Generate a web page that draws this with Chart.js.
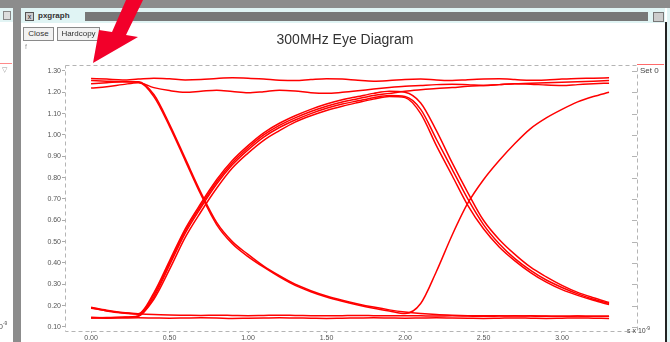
<!DOCTYPE html>
<html>
<head>
<meta charset="utf-8">
<script src="https://cdn.jsdelivr.net/npm/chart.js@4.4.0/dist/chart.umd.min.js"></script>
<style>
body { margin: 0; width: 670px; height: 342px; overflow: hidden; position: relative; background: #fff; font-family: "Liberation Sans", Arial, sans-serif; }
#eye { position: absolute; left: 0; top: 0; }
.box { position: absolute; }
.btn { position: absolute; top: 27px; height: 12px; border: 1px solid #8a8a8a; background: #f2f2f2; font-size: 8px; line-height: 12px; text-align: center; color: #333; }
</style>
</head>
<body>
<canvas id="eye" width="670" height="342"></canvas>

<!-- window chrome -->
<div class="box" style="left:0;top:0;width:670px;height:8px;background:#8c8c8c"></div>
<div class="box" style="left:0;top:8px;width:13px;height:14px;background:#e2f4f4"></div>
<div class="box" style="left:3px;top:11px;width:6px;height:7px;border:1px solid #888;background:#ddd"></div>
<div class="box" style="left:0;top:63px;width:12px;height:1px;background:#ff8a8a"></div>
<div class="box" style="left:2px;top:66px;font-size:7px;color:#999">&#9661;</div>
<div class="box" style="left:-6px;top:320px;width:19px;overflow:hidden;font-size:8px;color:#555;white-space:nowrap">10<sup style="font-size:5px">-9</sup></div>
<div class="box" style="left:13px;top:0;width:8px;height:342px;background:#8c8c8c"></div>

<div class="box" style="left:21px;top:8px;width:644px;height:15px;background:#e0f4f4"></div>
<div class="box" style="left:25px;top:12px;width:7px;height:7px;border:1px solid #555;background:#ccc;font-size:7px;line-height:7px;text-align:center;color:#222">x</div>
<div class="box" style="left:38px;top:11px;font-size:8px;font-weight:bold;color:#333">pxgraph</div>
<div class="box" style="left:85px;top:12px;width:563px;height:9px;background:#777"></div>
<div class="box" style="left:653px;top:12px;width:9px;height:8px;border:1px solid #777;background:#ccc"></div>
<div class="box" style="left:665px;top:22px;width:2px;height:320px;background:#222"></div>
<div class="box" style="left:667px;top:8px;width:3px;height:334px;background:#e0f4f4"></div>

<div class="btn" style="left:23px;width:29px">Close</div>
<div class="btn" style="left:57px;width:41px">Hardcopy</div>
<div class="box" style="left:25px;top:43px;font-size:7px;color:#999">f</div>

<div class="box" style="left:0;top:32px;width:690px;text-align:center;font-size:14px;line-height:14px;color:#333">300MHz Eye Diagram</div>
<div class="box" style="left:637px;top:64px;width:27px;height:1px;background:#ff6a6a"></div>
<div class="box" style="left:640px;top:66px;font-size:8px;color:#444">Set 0</div>
<div class="box" style="left:627px;top:325px;font-size:7px;color:#444;white-space:nowrap">s x 10<sup style="font-size:5px">-9</sup></div>

<svg class="box" style="left:0;top:0" width="670" height="342">
  <polygon points="126,0 143,0 126,35 138,37 93,63 99,30 112,32" fill="#f2002a"/>
</svg>

<script>
// time axis in ns (one 3.33 ns window)
const timeNs = [0.0, 0.1, 0.2, 0.3, 0.4, 0.5, 0.6, 0.7, 0.8, 0.9,
                1.0, 1.1, 1.2, 1.3, 1.4, 1.5, 1.6, 1.7, 1.8, 1.9,
                2.0, 2.1, 2.2, 2.3, 2.4, 2.5, 2.6, 2.7, 2.8, 2.9,
                3.0, 3.1, 3.2, 3.3];
const xTicks = [0.0, 0.5, 1.0, 1.5, 2.0, 2.5, 3.0];
const yTicks = [0.10, 0.20, 0.30, 0.40, 0.50, 0.60, 0.70, 0.80, 0.90, 1.00, 1.10, 1.20, 1.30];

// traces, volts
const hold1 = [1.265, 1.262, 1.258, 1.262, 1.266, 1.263, 1.258, 1.260, 1.265, 1.268,
               1.266, 1.262, 1.257, 1.255, 1.260, 1.264, 1.262, 1.256, 1.252, 1.255,
               1.260, 1.262, 1.258, 1.255, 1.259, 1.262, 1.263, 1.260, 1.256, 1.258,
               1.262, 1.265, 1.266, 1.268];
const hold2 = [1.220, 1.226, 1.236, 1.245, 1.222, 1.208, 1.200, 1.205, 1.210, 1.204,
               1.198, 1.203, 1.210, 1.206, 1.198, 1.195, 1.200, 1.207, 1.215, 1.222,
               1.228, 1.232, 1.236, 1.238, 1.236, 1.232, 1.236, 1.240, 1.238, 1.234,
               1.232, 1.236, 1.240, 1.243];
const fall101 = [1.240, 1.245, 1.250, 1.248, 1.180, 1.040, 0.880, 0.720, 0.580, 0.490,
                 0.430, 0.380, 0.335, 0.295, 0.265, 0.240, 0.220, 0.203, 0.188, 0.175,
                 0.163, 0.210, 0.360, 0.530, 0.680, 0.790, 0.880, 0.960, 1.030, 1.080,
                 1.120, 1.155, 1.180, 1.200];
const fall100 = [1.255, 1.252, 1.250, 1.250, 1.190, 1.050, 0.890, 0.730, 0.590, 0.500,
                 0.440, 0.385, 0.340, 0.300, 0.270, 0.245, 0.225, 0.208, 0.193, 0.180,
                 0.170, 0.163, 0.158, 0.155, 0.153, 0.152, 0.152, 0.151, 0.152, 0.151,
                 0.150, 0.151, 0.150, 0.150];
const rise011 = [0.190, 0.175, 0.165, 0.160, 0.250, 0.400, 0.550, 0.670, 0.780, 0.870,
                 0.940, 1.000, 1.045, 1.080, 1.110, 1.135, 1.155, 1.170, 1.185, 1.195,
                 1.205, 1.212, 1.218, 1.222, 1.228, 1.232, 1.236, 1.240, 1.242, 1.245,
                 1.247, 1.250, 1.252, 1.255];
const rise010a = [0.145, 0.143, 0.145, 0.150, 0.240, 0.390, 0.540, 0.660, 0.770, 0.860,
                  0.930, 0.990, 1.035, 1.070, 1.100, 1.125, 1.145, 1.160, 1.175, 1.185,
                  1.180, 1.120, 0.980, 0.840, 0.700, 0.580, 0.490, 0.420, 0.365, 0.320,
                  0.285, 0.255, 0.230, 0.210];
const rise010b = [0.188, 0.176, 0.166, 0.162, 0.260, 0.410, 0.560, 0.680, 0.790, 0.880,
                  0.950, 1.010, 1.055, 1.090, 1.120, 1.145, 1.165, 1.180, 1.195, 1.205,
                  1.200, 1.150, 1.020, 0.870, 0.730, 0.600, 0.510, 0.440, 0.380, 0.335,
                  0.295, 0.262, 0.237, 0.215];
const rise010c = [0.142, 0.144, 0.146, 0.152, 0.230, 0.370, 0.520, 0.640, 0.750, 0.845,
                  0.915, 0.975, 1.020, 1.060, 1.090, 1.115, 1.135, 1.152, 1.168, 1.180,
                  1.175, 1.100, 0.950, 0.810, 0.670, 0.560, 0.475, 0.410, 0.355, 0.310,
                  0.275, 0.248, 0.225, 0.205];
const low000 = [0.142, 0.141, 0.142, 0.143, 0.142, 0.141, 0.142, 0.143, 0.142, 0.140,
                0.141, 0.142, 0.143, 0.142, 0.141, 0.140, 0.141, 0.142, 0.143, 0.142,
                0.141, 0.142, 0.143, 0.142, 0.141, 0.140, 0.141, 0.142, 0.141, 0.140,
                0.141, 0.142, 0.141, 0.140];
const low100 = [0.192, 0.178, 0.168, 0.162, 0.158, 0.156, 0.155, 0.154, 0.155, 0.154,
                0.153, 0.154, 0.155, 0.154, 0.153, 0.152, 0.153, 0.154, 0.153, 0.152,
                0.153, 0.152, 0.151, 0.152, 0.151, 0.150, 0.151, 0.152, 0.151, 0.150,
                0.150, 0.151, 0.150, 0.150];

const traces = [hold1, hold2, fall101, fall100, rise011, rise010a, rise010b, rise010c, low000, low100];

const font = { family: '"Liberation Sans", Arial, sans-serif', size: 7 };

// dashed frame round the plot + short inward ticks on the right axis
const frame = {
    id: 'frame',
    beforeDatasetsDraw(chart) {
        const a = chart.chartArea, c = chart.ctx, s = chart.scales.y2;
        c.save();
        c.strokeStyle = '#b4b4b4';
        c.lineWidth = 1;
        c.setLineDash([4, 3]);
        c.beginPath();
        c.moveTo(a.left + 0.5, a.top + 0.5);
        c.lineTo(a.right + 0.5, a.top + 0.5);
        c.lineTo(a.right + 0.5, a.bottom + 0.5);
        c.lineTo(a.left + 0.5, a.bottom + 0.5);
        c.closePath();
        c.stroke();
        c.setLineDash([]);
        yTicks.forEach(v => {
            const y = Math.round(s.getPixelForValue(v)) + 0.5;
            c.beginPath();
            c.moveTo(a.right - 5, y);
            c.lineTo(a.right, y);
            c.stroke();
        });
        c.restore();
    }
};

new Chart(document.getElementById('eye'), {
    type: 'line',
    data: {
        datasets: traces.map(tr => ({
            data: tr.map((v, i) => ({ x: timeNs[i], y: v })),
            borderColor: 'rgb(255,0,0)',
            borderWidth: 1.5,
            pointRadius: 0,
            fill: false,
            cubicInterpolationMode: 'monotone'
        }))
    },
    options: {
        responsive: false,
        devicePixelRatio: 1,
        animation: false,
        layout: { padding: { top: 65, left: 0, right: 0, bottom: 0 } },
        plugins: { legend: { display: false }, tooltip: { enabled: false } },
        scales: {
            x: {
                type: 'linear', position: 'bottom', min: -0.166, max: 3.478,
                afterBuildTicks: s => { s.ticks = xTicks.map(v => ({ value: v })); },
                afterFit: s => { s.height = 11; },
                ticks: { font, color: '#555', padding: 1, maxRotation: 0, autoSkip: false, callback: v => v.toFixed(2) },
                grid: { drawOnChartArea: false, tickLength: 2, color: '#aaa' },
                border: { display: false }
            },
            y: {
                position: 'left', min: 0.081, max: 1.328,
                afterBuildTicks: s => { s.ticks = yTicks.map(v => ({ value: v })); },
                afterFit: s => { s.width = 65; },
                ticks: { font, color: '#555', padding: 1, callback: v => v.toFixed(2) },
                grid: { drawOnChartArea: false, tickLength: 3, color: '#aaa' },
                border: { display: false }
            },
            y2: {
                position: 'right', min: 0.081, max: 1.328,
                afterFit: s => { s.width = 33; },
                ticks: { display: false },
                grid: { display: false },
                border: { display: false }
            }
        }
    },
    plugins: [frame]
});
</script>
</body>
</html>
